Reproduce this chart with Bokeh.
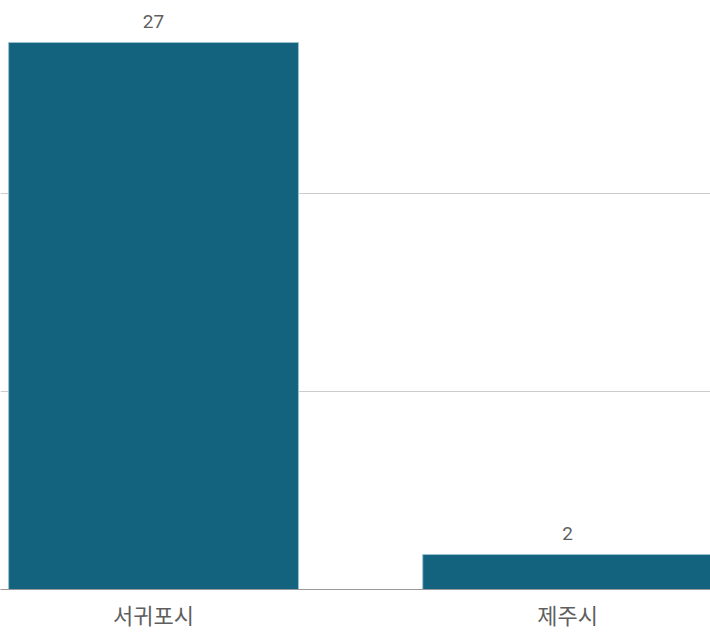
from bokeh.plotting import figure
from bokeh.models import ColumnDataSource, Range1d, FixedTicker, LabelSet
from bokeh.core.properties import value
from bokeh.embed import file_html
from bokeh.resources import INLINE

categories = ["서귀포시", "제주시"]
counts = [27, 2]
positions = [0, 1]
grid_values = [9.96, 19.63]

src = ColumnDataSource(dict(x=positions, top=counts, label=[str(c) for c in counts]))

p = figure(frame_width=710, frame_height=589, output_backend="svg", toolbar_location=None,
           x_range=Range1d(-0.3696, 1.345), y_range=Range1d(0.29, 29.05),
           min_border_left=0, min_border_right=0, min_border_top=0, min_border_bottom=0)
p.outline_line_color = None
p.background_fill_color = "white"
p.border_fill_color = "white"

p.vbar(x="x", top="top", bottom=0, width=0.7, source=src,
       fill_color="#14637e", line_color="#9cc3d3", line_width=1)

labels = LabelSet(x="x", y="top", text="label", source=src, text_align="center",
                  text_baseline="alphabetic", y_offset=14, text_font=value("Roboto"),
                  text_font_size="19px", text_color="#5f5f5f")
p.add_layout(labels)

p.yaxis.visible = False
p.ygrid.ticker = FixedTicker(ticks=grid_values)
p.ygrid.grid_line_color = "#cccccc"
p.ygrid.grid_line_width = 1
p.xgrid.visible = False

xa = p.xaxis[0]
xa.ticker = FixedTicker(ticks=positions)
xa.major_label_overrides = {pos: cat for pos, cat in zip(positions, categories)}
xa.major_tick_line_color = None
xa.minor_tick_line_color = None
xa.axis_line_color = "#999999"
xa.axis_line_width = 1
xa.major_label_text_font = "Noto Sans CJK KR"
xa.major_label_text_font_size = "22px"
xa.major_label_text_color = "#5f5f5f"
xa.major_label_standoff = 2

open("out.html", "w").write(file_html(p, INLINE))
